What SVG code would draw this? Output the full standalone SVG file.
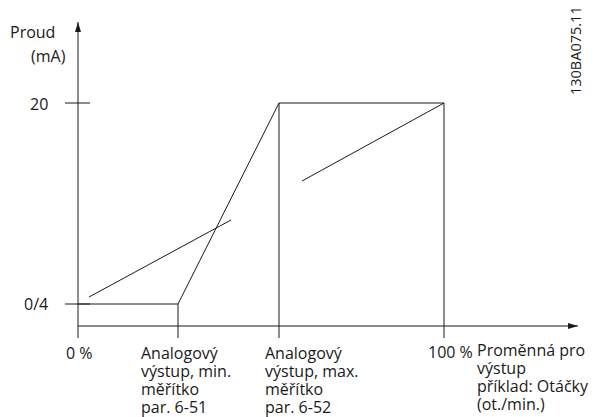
<svg xmlns="http://www.w3.org/2000/svg" width="595" height="417" viewBox="0 0 595 417">
<style>
.l{stroke:#1a1a1a;stroke-width:1;fill:none}
text{font-family:"Open Sans","Liberation Sans",sans-serif;font-size:16px;fill:#1a1a1a}
</style>
<defs>
<marker id="ah" viewBox="0 0 10 6" refX="10" refY="3" markerWidth="10" markerHeight="6" markerUnits="userSpaceOnUse" orient="auto">
<path d="M0,0 L10,3 L0,6 Z" fill="#1a1a1a"/>
</marker>
</defs>
<g id="axes">
<line class="l" x1="78" y1="338" x2="78" y2="22" marker-end="url(#ah)"/>
<line class="l" x1="78" y1="326" x2="578" y2="326" marker-end="url(#ah)"/>
<line class="l" x1="65" y1="103" x2="90" y2="103"/>
<line class="l" x1="65" y1="304" x2="90" y2="304"/>
<line class="l" x1="178" y1="304" x2="178" y2="338"/>
<line class="l" x1="444" y1="103" x2="444" y2="338"/>
</g>
<g id="connectors">
<polyline class="l" points="78,304 178,304 279,103 444,103"/>
<line class="l" x1="279" y1="103" x2="279" y2="338"/>
<line class="l" x1="89" y1="297" x2="231" y2="220"/>
<line class="l" x1="302" y1="181" x2="444" y2="103"/>
</g>
<g id="labels">
<text x="10" y="38">Proud</text>
<text x="31" y="62">(mA)</text>
<text x="30" y="110">20</text>
<text x="24" y="310">0/4</text>
<text x="66" y="359">0 %</text>
<text x="428" y="358">100 %</text>
</g>
<g id="min">
<text x="141" y="359">Analogový</text>
<text x="141" y="377">výstup, min.</text>
<text x="141" y="395">měřítko</text>
<text x="141" y="413">par. 6-51</text>
</g>
<g id="max">
<text x="265" y="359">Analogový</text>
<text x="265" y="377">výstup, max.</text>
<text x="265" y="395">měřítko</text>
<text x="265" y="413">par. 6-52</text>
</g>
<g id="var">
<text x="477" y="356">Proměnná pro</text>
<text x="477" y="374">výstup</text>
<text x="477" y="392">příklad: Otáčky</text>
<text x="477" y="410">(ot./min.)</text>
</g>
<text transform="translate(581,95) rotate(-90)" style="font-size:14.5px">130BA075.11</text>
</svg>
